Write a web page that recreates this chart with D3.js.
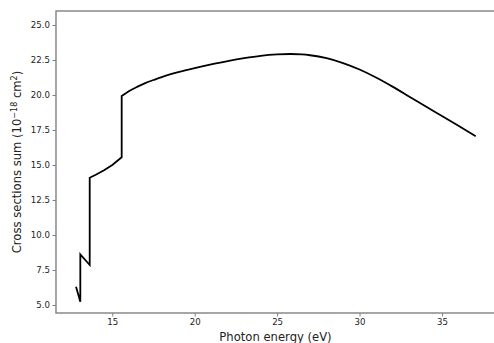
<!DOCTYPE html>
<html>
<head>
<meta charset="utf-8">
<script src="https://cdn.jsdelivr.net/npm/d3@7"></script>
<style>
  html, body { margin: 0; padding: 0; background: #fff; }
  svg { display: block; font-family: "DejaVu Sans", sans-serif; }
</style>
</head>
<body>
<svg id="chart" width="494" height="343"></svg>
<script>
// Photon energy (eV) and summed cross sections (1e-18 cm^2)
const energy = [12.8, 13.06, 13.06, 13.63, 13.63, 14.0, 14.5, 15.0, 15.57, 15.57,
  16.0, 16.5, 17.0, 17.5, 18.0, 19.0, 20.0, 21.0, 22.0, 23.0, 24.0, 25.0, 25.8,
  26.5, 27.0, 28.0, 29.0, 30.0, 31.0, 32.0, 33.0, 34.0, 35.0, 36.0, 37.05];
const crossSum = [6.31, 5.24, 8.62, 7.86, 14.09, 14.3, 14.62, 15.0, 15.55, 19.93,
  20.27, 20.58, 20.85, 21.07, 21.28, 21.63, 21.92, 22.18, 22.42, 22.63, 22.8, 22.9, 22.93,
  22.9, 22.84, 22.63, 22.28, 21.82, 21.25, 20.6, 19.9, 19.19, 18.5, 17.8, 17.05];
const xTicks = [15, 20, 25, 30, 35];
const yTicks = [5.0, 7.5, 10.0, 12.5, 15.0, 17.5, 20.0, 22.5, 25.0];

const svg = d3.select("#chart");
const plotL = 56, plotR = 497, plotT = 11, plotB = 313;

const x = d3.scaleLinear().domain([11.585, 38.34]).range([plotL, plotR]);
const y = d3.scaleLinear().domain([4.43, 26.0]).range([plotB, plotT]);

const spine = "#808080";

// axes
const xAxis = svg.append("g").attr("transform", `translate(0,${plotB})`)
  .call(d3.axisBottom(x).tickValues(xTicks).tickFormat(d3.format("d")).tickSize(3.5).tickPadding(2.5));
const yAxis = svg.append("g").attr("transform", `translate(${plotL},0)`)
  .call(d3.axisLeft(y).tickValues(yTicks).tickFormat(d3.format(".1f")).tickSize(3.5).tickPadding(2.5));

[xAxis, yAxis].forEach(g => {
  g.select(".domain").remove();
  g.selectAll(".tick line").attr("stroke", spine).attr("stroke-width", 1);
  g.selectAll(".tick text").attr("fill", "#222").style("font-size", "8.6px")
    .style("font-family", "DejaVu Sans, sans-serif");
});

// frame
svg.append("rect").attr("x", plotL).attr("y", plotT)
  .attr("width", plotR - plotL).attr("height", plotB - plotT)
  .attr("fill", "none").attr("stroke", spine).attr("stroke-width", 1.4);

// data line: sharp edges below the last jump, smooth continuum above it
const pts = energy.map((e, i) => [e, crossSum[i]]);
const lastJump = 9;
const lineLin = d3.line().x(d => x(d[0])).y(d => y(d[1]));
const lineSmooth = d3.line().curve(d3.curveMonotoneX).x(d => x(d[0])).y(d => y(d[1]));
svg.append("path")
  .attr("fill", "none").attr("stroke", "#000").attr("stroke-width", 1.8)
  .attr("stroke-linejoin", "miter").attr("stroke-miterlimit", 4)
  .attr("d", lineLin(pts.slice(0, lastJump + 1)) + lineSmooth(pts.slice(lastJump)).replace(/^M[^A-Za-z]*/, ""));

// axis labels
svg.append("text").attr("x", (plotL + plotR) / 2 - 1).attr("y", 341)
  .attr("text-anchor", "middle").style("font-size", "11.6px").attr("fill", "#222")
  .text("Photon energy (eV)");

const yl = svg.append("text")
  .attr("transform", `translate(21,${(plotT + plotB) / 2}) rotate(-90)`)
  .attr("text-anchor", "middle").style("font-size", "11.6px").attr("fill", "#222");
yl.append("tspan").text("Cross sections sum (10");
yl.append("tspan").attr("dy", -4.5).style("font-size", "8px").text("\u221218");
yl.append("tspan").attr("dy", 4.5).text(" cm");
yl.append("tspan").attr("dy", -4.5).style("font-size", "8px").text("2");
yl.append("tspan").attr("dy", 4.5).text(")");
</script>
</body>
</html>
